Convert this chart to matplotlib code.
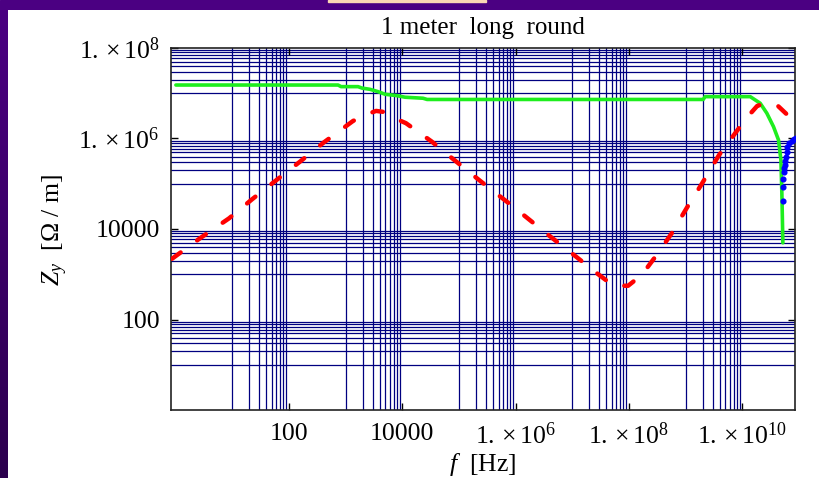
import numpy as np
import matplotlib
matplotlib.use("Agg")
import matplotlib.pyplot as plt
from matplotlib.ticker import FixedLocator, FixedFormatter, NullFormatter
from matplotlib.patches import Rectangle

plt.rcParams['font.family'] = ['Liberation Serif', 'DejaVu Serif']
plt.rcParams['mathtext.fontset'] = 'custom'
plt.rcParams['mathtext.rm'] = 'Liberation Serif'
plt.rcParams['mathtext.it'] = 'Liberation Serif:italic'

# --- data -------------------------------------------------------------
# green: |Z_y| of the full model
green_f = [1.01, 735, 830, 1655, 1945, 2700, 3730, 4960, 8070, 11200, 23200,
           27400, 2.04e9, 2.21e9, 1.38e10, 2.07e10, 2.71e10, 3.55e10, 4.35e10,
           4.80e10, 4.99e10, 5.20e10]
green_z = [1.52e7, 1.52e7, 1.40e7, 1.40e7, 1.30e7, 1.22e7, 1.085e7, 9.5e6,
           8.85e6, 8.17e6, 7.76e6, 7.29e6, 7.29e6, 8.41e6, 8.41e6, 6.01e6,
           3.62e6, 1.83e6, 9.3e5, 3.38e5, 6.29e4, 4950]

# red (dashed): approximate model
red_f = [0.863, 2.69, 8.75, 22.3, 60.8, 157, 416, 1350, 2480, 3440, 4760,
         8070, 11600, 33100, 69700, 2.36e5, 9.02e5, 3.74e6, 1.02e7, 2.70e7,
         4.29e7, 5.25e7, 9.66e7, 1.69e8, 3.27e8, 5.70e8, 1.05e9, 1.93e9,
         3.90e9, 8.02e9, 1.20e10, 1.83e10, 2.71e10, 3.96e10, 6.53e10, 9.29e10]
red_z = [2200, 6240, 17200, 45300, 1.22e5, 3.09e5, 8.27e5, 2.44e6, 3.49e6,
         4.07e6, 3.86e6, 2.66e6, 2.18e6, 8.55e5, 3.98e5, 1.16e5, 31300, 7440,
         2790, 1060, 682, 557, 557, 974, 2940, 8110, 29400, 99500, 4.34e5,
         1.47e6, 2.89e6, 5.24e6, 6.19e6, 5.71e6, 3.16e6, 1.99e6]

# blue dots: sampled points near the resonance
blue_f = [5.32e10, 5.32e10, 5.32e10, 5.48e10, 5.55e10, 5.70e10, 5.70e10,
          5.87e10, 6.11e10, 6.27e10, 6.79e10, 7.50e10, 8.22e10, 8.8e10]
blue_z = [42000, 86700, 1.28e5, 1.80e5, 2.20e5, 2.61e5, 3.20e5, 3.98e5,
          5.14e5, 6.42e5, 7.87e5, 8.99e5, 9.95e5, 1.016e6]

x_ticks = [1e2, 1e4, 1e6, 1e8, 1e10]
x_labels = ['100', '10000', r'$1.\times10^{6}$', r'$1.\times10^{8}$',
            r'$1.\times10^{10}$']
y_ticks = [1e2, 1e4, 1e6, 1e8]
y_labels = ['100', '10000', r'$1.\times10^{6}$', r'$1.\times10^{8}$']

# --- figure -----------------------------------------------------------
W, H = 819, 478
fig = plt.figure(figsize=(W / 100, H / 100), dpi=100, facecolor='white')

# slide frame: indigo top band, peach accent and shaded left strip
top = fig.add_axes([0, 1 - 10 / H, 1, 10 / H])
top.set_axis_off()
top.add_patch(Rectangle((0, 0), 1, 1, color='#4B0082', transform=top.transAxes))
top.add_patch(Rectangle((328 / W, 0.8), (486 - 328) / W, 0.2,
                        color='#FBD8B4', transform=top.transAxes))
side = fig.add_axes([0, 0, 8 / W, 1 - 10 / H])
side.set_axis_off()
grad = np.linspace(0, 1, 256)[:, None]
c0 = np.array([75, 0, 130]) / 255
c1 = np.array([44, 0, 78]) / 255
img = c0[None, None, :] * (1 - grad[..., None]) + c1[None, None, :] * grad[..., None]
side.imshow(img, aspect='auto', extent=[0, 1, 0, 1])

ax = fig.add_axes([171 / W, 1 - 410 / H, (795 - 171) / W, (410 - 48) / H])
ax.set_xscale('log')
ax.set_yscale('log')
ax.set_xlim(10 ** -0.082, 10 ** 10.93)
ax.set_ylim(1, 1e8)

# grid lines over every other decade
grid_kw = dict(color='#000080', lw=0.9, zorder=1)
for k in (1, 3, 5, 7, 9):
    for m in range(1, 10):
        ax.axvline(m * 10.0 ** k, **grid_kw)
for k in (1, 3, 5, 7):
    for m in range(1, 10):
        ax.axhline(m * 10.0 ** k, **grid_kw)

ax.plot(green_f, green_z, color='#1EEE1E', lw=2.6, zorder=3,
        solid_joinstyle='round', solid_capstyle='round')
ax.plot(red_f, red_z, color='#FF0000', lw=3.2, zorder=4,
        dashes=(2.4, 4.6), dash_capstyle='round')
ax.plot(blue_f, blue_z, 'o', color='#0000FF', ms=3.4, zorder=5)

ax.xaxis.set_major_locator(FixedLocator(x_ticks))
ax.xaxis.set_major_formatter(FixedFormatter(x_labels))
ax.yaxis.set_major_locator(FixedLocator(y_ticks))
ax.yaxis.set_major_formatter(FixedFormatter(y_labels))
ax.xaxis.set_minor_formatter(NullFormatter())
ax.yaxis.set_minor_formatter(NullFormatter())
ax.tick_params(which='both', direction='in', top=True, right=True,
               labelsize=18.5, colors='black')
ax.tick_params(axis='x', which='major', pad=9)
ax.tick_params(axis='y', which='major', pad=8)
ax.tick_params(which='major', length=5, width=1)
ax.tick_params(which='minor', length=3, width=0.8)
for sp in ax.spines.values():
    sp.set_color('#222222')
    sp.set_linewidth(1.2)

ax.set_title('1 meter  long  round', fontsize=18, pad=10)

# axis captions placed in figure pixels
fig.text(483 / W, 1 - 465 / H, r'$f$  [Hz]', fontsize=18.5,
         ha='center', va='center')
fig.text(55 / W, 1 - 230 / H, r'$Z_y$  [$\Omega$ / m]', fontsize=18.5,
         ha='center', va='center', rotation=90)

fig.savefig('out.png', dpi=100, facecolor='white')
